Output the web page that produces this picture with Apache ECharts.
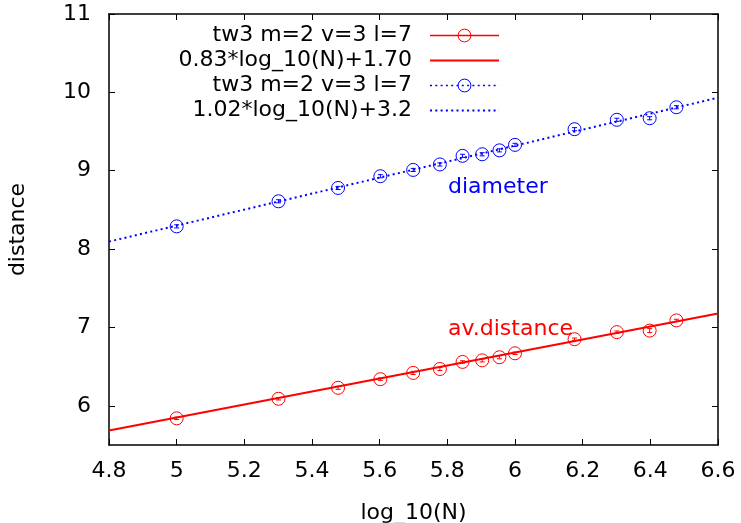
<!DOCTYPE html>
<html><head><meta charset="utf-8">
<script src="https://cdn.jsdelivr.net/npm/echarts@6/dist/echarts.min.js"></script>
<style>html,body{margin:0;padding:0;background:#fff}#c{width:741px;height:523px}</style>
</head><body><div id="c"></div>
<script>
// ---- data ----
const logN = [5.000, 5.301, 5.477, 5.602, 5.699, 5.778, 5.845, 5.903, 5.954, 6.000, 6.176, 6.301, 6.398, 6.477];
const avDistance = [5.84, 6.09, 6.23, 6.34, 6.42, 6.47, 6.56, 6.58, 6.62, 6.67, 6.85, 6.94, 6.96, 7.09];
const avDistanceErr = [0.015, 0.015, 0.02, 0.015, 0.02, 0.02, 0.015, 0.02, 0.02, 0.015, 0.015, 0.015, 0.025, 0.015];
const diameter = [8.29, 8.61, 8.78, 8.93, 9.01, 9.08, 9.19, 9.21, 9.26, 9.33, 9.53, 9.65, 9.67, 9.81];
const diameterErr = [0.02, 0.02, 0.02, 0.02, 0.02, 0.02, 0.02, 0.02, 0.02, 0.02, 0.02, 0.02, 0.02, 0.02];
const fitX = [4.8, 6.6];
const avFit = [5.684, 7.178];
const diamFit = [8.096, 9.932];
const xTicks = [4.8, 5, 5.2, 5.4, 5.6, 5.8, 6, 6.2, 6.4, 6.6];
const yTicks = [6, 7, 8, 9, 10, 11];
const seriesIds = ['avData', 'avFit', 'diamData', 'diamFit'];
const legendLabels = ['tw3 m=2 v=3 l=7', '0.83*log_10(N)+1.70', 'tw3 m=2 v=3 l=7', '1.02*log_10(N)+3.2'];

// ---- style ----
const RED = '#ff0000', BLUE = '#0000ff';
const F = 'DejaVu Sans';
const FS = 22;
const DOT = [2, 3.3];

const zip = (xs, ys) => xs.map((x, i) => [x, ys[i]]);
const zip3 = (xs, ys, es) => xs.map((x, i) => [x, ys[i], es[i]]);

function errRenderer(color) {
  return function (params, api) {
    const x = api.value(0), y = api.value(1), e = api.value(2);
    const t = api.coord([x, y + e]);
    const b = api.coord([x, y - e]);
    const w = 2.5;
    const st = {stroke: color, lineWidth: 1};
    return {type: 'group', children: [
      {type: 'line', shape: {x1: t[0], y1: t[1], x2: b[0], y2: b[1]}, style: st},
      {type: 'line', shape: {x1: t[0] - w, y1: t[1], x2: t[0] + w, y2: t[1]}, style: st},
      {type: 'line', shape: {x1: b[0] - w, y1: b[1], x2: b[0] + w, y2: b[1]}, style: st}
    ]};
  };
}

const axisCommon = {
  type: 'value',
  axisLine: {show: true, onZero: false, lineStyle: {color: '#000', width: 1.5}},
  splitLine: {show: false},
  nameTextStyle: {fontFamily: F, fontSize: FS, color: '#000'}
};

const chart = echarts.init(document.getElementById('c'), null, {renderer: 'canvas'});
chart.setOption({
  animation: false,
  backgroundColor: '#fff',
  grid: {left: 109, right: 23, top: 14, bottom: 78, containLabel: false, outerBoundsMode: 'none'},
  xAxis: [
    Object.assign({}, axisCommon, {
      position: 'bottom', min: 4.8, max: 6.6,
      axisTick: {show: true, inside: true, length: 6, customValues: xTicks, lineStyle: {color: '#000', width: 1}},
      axisLabel: {show: true, customValues: xTicks, margin: 15, fontFamily: F, fontSize: FS, color: '#000'},
      name: 'log_10(N)', nameLocation: 'middle', nameGap: 57
    }),
    Object.assign({}, axisCommon, {
      position: 'top', min: 4.8, max: 6.6,
      axisTick: {show: true, inside: true, length: 6, customValues: xTicks, lineStyle: {color: '#000', width: 1}},
      axisLabel: {show: false, customValues: xTicks}
    })
  ],
  yAxis: [
    Object.assign({}, axisCommon, {
      position: 'left', min: 5.5, max: 11,
      axisTick: {show: true, inside: true, length: 6, customValues: yTicks, lineStyle: {color: '#000', width: 1}},
      axisLabel: {show: true, customValues: yTicks, margin: 18, fontFamily: F, fontSize: FS, color: '#000'},
      name: 'distance', nameLocation: 'middle', nameGap: 80, nameRotate: 90
    }),
    Object.assign({}, axisCommon, {
      position: 'right', min: 5.5, max: 11,
      axisTick: {show: true, inside: true, length: 6, customValues: yTicks, lineStyle: {color: '#000', width: 1}},
      axisLabel: {show: false, customValues: yTicks}
    })
  ],
  legend: {
    orient: 'vertical', right: 241, top: 23, padding: 0, itemGap: 0,
    itemWidth: 69, itemHeight: 16, align: 'right', selectedMode: false,
    textStyle: {fontFamily: F, fontSize: FS, color: '#000', lineHeight: 25, padding: [0, 13, 0, 0]},
    formatter: name => legendLabels[seriesIds.indexOf(name)],
    data: [
      {name: 'avData', itemStyle: {color: 'transparent', borderColor: RED, borderWidth: 1}, lineStyle: {color: RED, width: 1.5, type: 'solid', opacity: 1}},
      {name: 'avFit', itemStyle: {opacity: 0}, lineStyle: {color: RED, width: 2, type: 'solid', opacity: 1}},
      {name: 'diamData', itemStyle: {color: 'transparent', borderColor: BLUE, borderWidth: 1}, lineStyle: {color: BLUE, width: 1.5, type: DOT, opacity: 1}},
      {name: 'diamFit', itemStyle: {opacity: 0}, lineStyle: {color: BLUE, width: 2, type: DOT, opacity: 1}}
    ]
  },
  series: [
    {name: 'avData', type: 'line', data: zip(logN, avDistance), symbol: 'circle', symbolSize: 13, showSymbol: true,
     itemStyle: {color: 'transparent', borderColor: RED, borderWidth: 1}, lineStyle: {width: 0, opacity: 0}, z: 3},
    {name: 'avErr', type: 'custom', data: zip3(logN, avDistance, avDistanceErr), encode: {x: 0, y: 1},
     renderItem: errRenderer(RED), z: 3},
    {name: 'avFit', type: 'line', data: zip(fitX, avFit), symbol: 'none', showSymbol: false,
     lineStyle: {color: RED, width: 2}, itemStyle: {color: RED}, z: 2},
    {name: 'diamData', type: 'line', data: zip(logN, diameter), symbol: 'circle', symbolSize: 13, showSymbol: true,
     itemStyle: {color: 'transparent', borderColor: BLUE, borderWidth: 1}, lineStyle: {width: 0, opacity: 0}, z: 3},
    {name: 'diamErr', type: 'custom', data: zip3(logN, diameter, diameterErr), encode: {x: 0, y: 1},
     renderItem: errRenderer(BLUE), z: 3},
    {name: 'diamFit', type: 'line', data: zip(fitX, diamFit), symbol: 'none', showSymbol: false,
     lineStyle: {color: BLUE, width: 2, type: DOT}, itemStyle: {color: BLUE}, z: 2}
  ],
  graphic: [
    {type: 'text', left: 448, top: 176, style: {text: 'diameter', fill: BLUE, font: FS + 'px "' + F + '"'}},
    {type: 'text', left: 448, top: 318, style: {text: 'av.distance', fill: RED, font: FS + 'px "' + F + '"'}}
  ]
});
</script>
</body></html>
